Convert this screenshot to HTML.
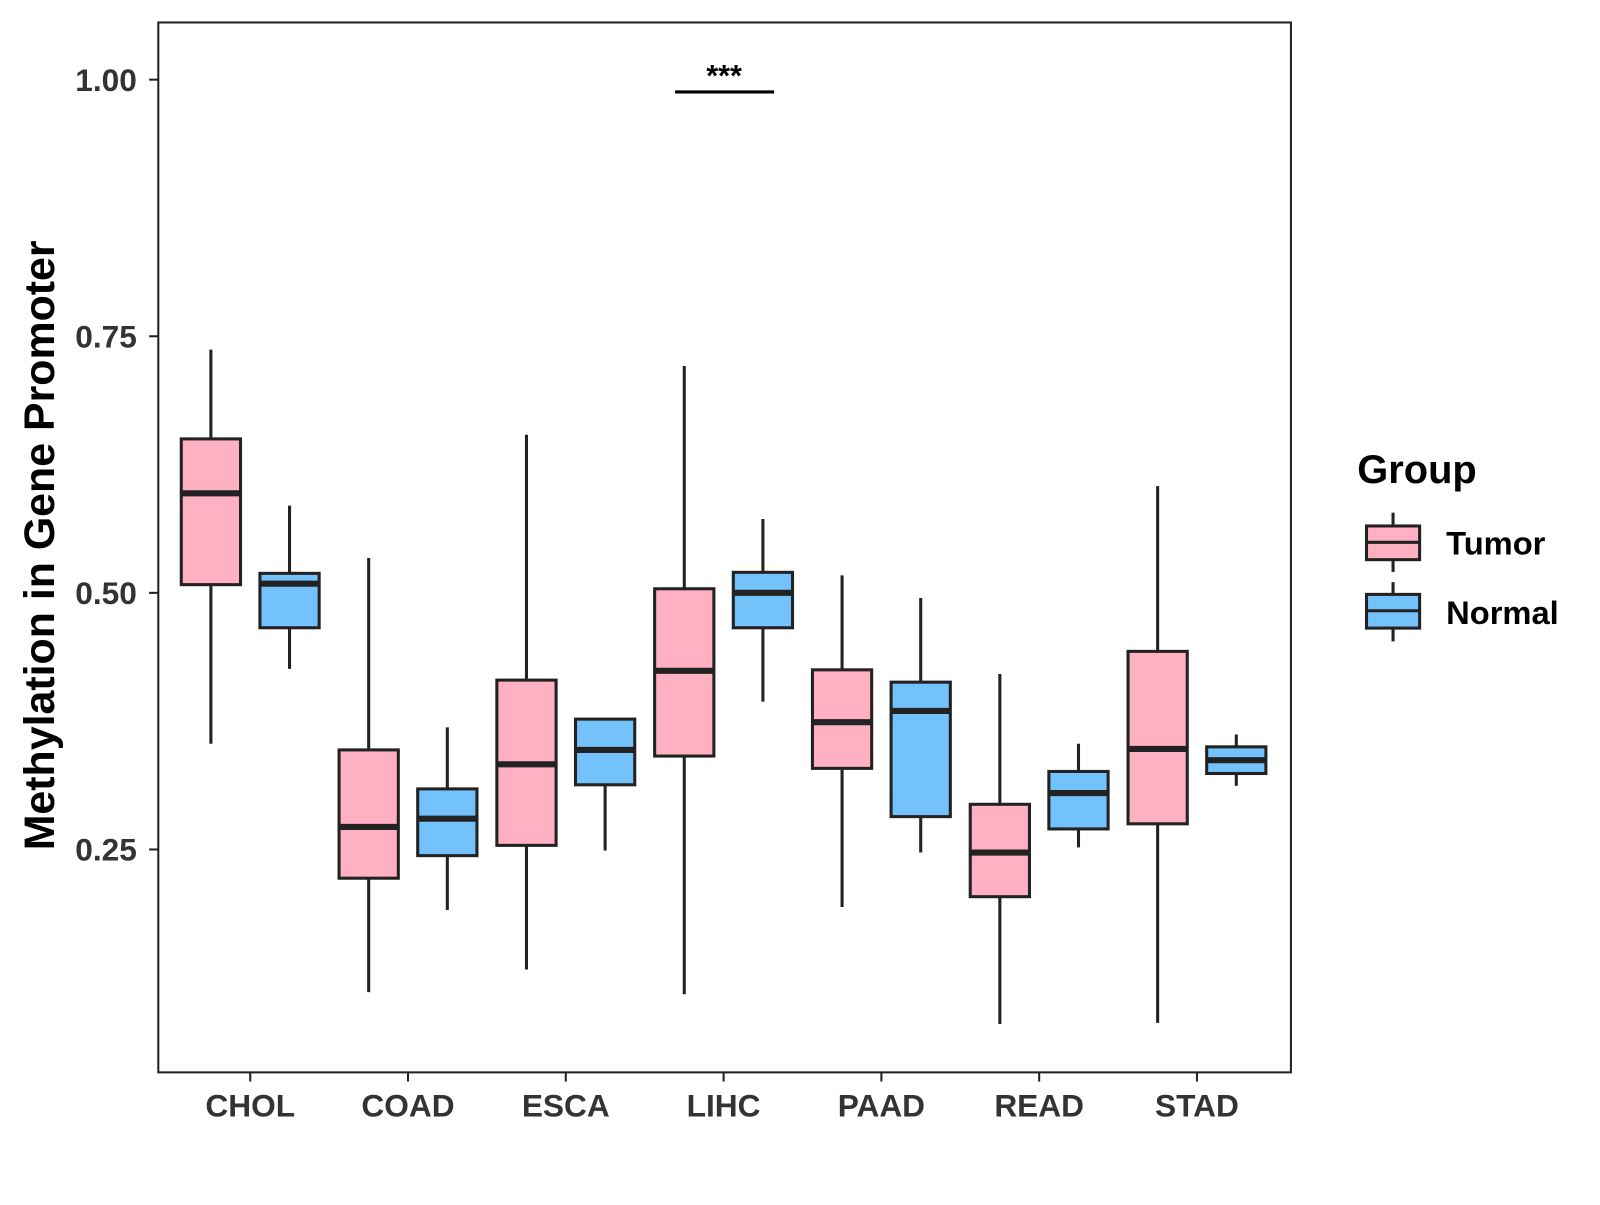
<!DOCTYPE html>
<html><head><meta charset="utf-8"><style>
body{margin:0;background:#fff}
svg{font-family:"Liberation Sans",Arial,sans-serif;font-weight:bold}
</style></head><body>
<svg id="chart" width="1600" height="1200" xmlns="http://www.w3.org/2000/svg">
<g transform="scale(1.0213)">
<rect x="155" y="22" width="1109" height="1028" fill="#fff" stroke="#222" stroke-width="2"/>
<g id="marks"></g>
<g id="axes"></g>
<text x="0" y="0" transform="translate(53,534) rotate(-90)" text-anchor="middle" font-size="42" fill="#000">Methylation in Gene Promoter</text>
<g>
<line x1="661" y1="90" x2="758" y2="90" stroke="#000" stroke-width="3"/>
<text x="709" y="84" text-anchor="middle" font-size="30" fill="#000">***</text>
</g>
<g>
<text x="1329" y="473" font-size="39" fill="#000">Group</text>
<g>
<line x1="1364" y1="502" x2="1364" y2="560" stroke="#222" stroke-width="3"/>
<rect x="1338" y="515" width="52" height="33" fill="#FFB0C3" stroke="#222" stroke-width="3"/>
<line x1="1338" y1="531" x2="1390" y2="531" stroke="#222" stroke-width="3"/>
<text x="1416" y="543" font-size="32" fill="#000">Tumor</text>
</g>
<g>
<line x1="1364" y1="570" x2="1364" y2="628" stroke="#222" stroke-width="3"/>
<rect x="1338" y="582" width="52" height="33" fill="#73C2FB" stroke="#222" stroke-width="3"/>
<line x1="1338" y1="598" x2="1390" y2="598" stroke="#222" stroke-width="3"/>
<text x="1416" y="611" font-size="32" fill="#000">Normal</text>
</g>
</g>
</g>
</svg>
<script>
const categories=["CHOL","COAD","ESCA","LIHC","PAAD","READ","STAD"];
const tumorMin=[0.353,0.111,0.133,0.109,0.194,0.080,0.081];
const tumorQ1=[0.508,0.222,0.254,0.341,0.329,0.204,0.275];
const tumorMed=[0.597,0.272,0.333,0.424,0.374,0.247,0.348];
const tumorQ3=[0.650,0.347,0.415,0.504,0.425,0.294,0.443];
const tumorMax=[0.737,0.534,0.654,0.721,0.517,0.421,0.604];
const normalMin=[0.426,0.191,0.249,0.394,0.247,0.252,0.312];
const normalQ1=[0.466,0.244,0.313,0.466,0.282,0.270,0.324];
const normalMed=[0.509,0.280,0.347,0.500,0.385,0.305,0.337];
const normalQ3=[0.519,0.309,0.377,0.520,0.413,0.326,0.350];
const normalMax=[0.585,0.369,0.377,0.572,0.495,0.353,0.362];
const yTicks=[0.25,0.50,0.75,1.00];
const yTickLabels=["0.25","0.50","0.75","1.00"];

const NS="http://www.w3.org/2000/svg";
function y(v){return 78+(1-v)*1005;}
function x(i){return 245+i*154.5;}
function mk(tag,attrs,parent){const e=document.createElementNS(NS,tag);for(const k in attrs)e.setAttribute(k,attrs[k]);parent.appendChild(e);return e;}
const marks=document.getElementById('marks');
const axes=document.getElementById('axes');
function box(cx,mn,q1,md,q3,mx,fill,name){
  const g=mk('g',{},marks);
  
  
  const w=58;
  mk('line',{x1:cx,x2:cx,y1:y(mx),y2:y(mn),stroke:'#222','stroke-width':3},g);
  mk('rect',{x:cx-w/2,y:y(q3),width:w,height:y(q1)-y(q3),fill:fill,stroke:'#222','stroke-width':3},g);
  mk('line',{x1:cx-w/2,x2:cx+w/2,y1:y(md),y2:y(md),stroke:'#222','stroke-width':6},g);
}
categories.forEach((c,i)=>{
  box(x(i)-38.5,tumorMin[i],tumorQ1[i],tumorMed[i],tumorQ3[i],tumorMax[i],'#FFB0C3','box-tumor-'+c.toLowerCase());
  box(x(i)+38.5,normalMin[i],normalQ1[i],normalMed[i],normalQ3[i],normalMax[i],'#73C2FB','box-normal-'+c.toLowerCase());
  mk('line',{x1:x(i),x2:x(i),y1:1050,y2:1059,stroke:'#222','stroke-width':2},axes);
  const t=mk('text',{x:x(i),y:1093,'text-anchor':'middle','font-size':31,fill:'#333'},axes);
  
  
  t.textContent=c;
});
yTicks.forEach((v,i)=>{
  mk('line',{x1:146,x2:155,y1:y(v),y2:y(v),stroke:'#222','stroke-width':2},axes);
  const t=mk('text',{x:134,y:y(v)+11,'text-anchor':'end','font-size':31,fill:'#333'},axes);
  
  
  t.textContent=yTickLabels[i];
});
</script>
</body></html>
